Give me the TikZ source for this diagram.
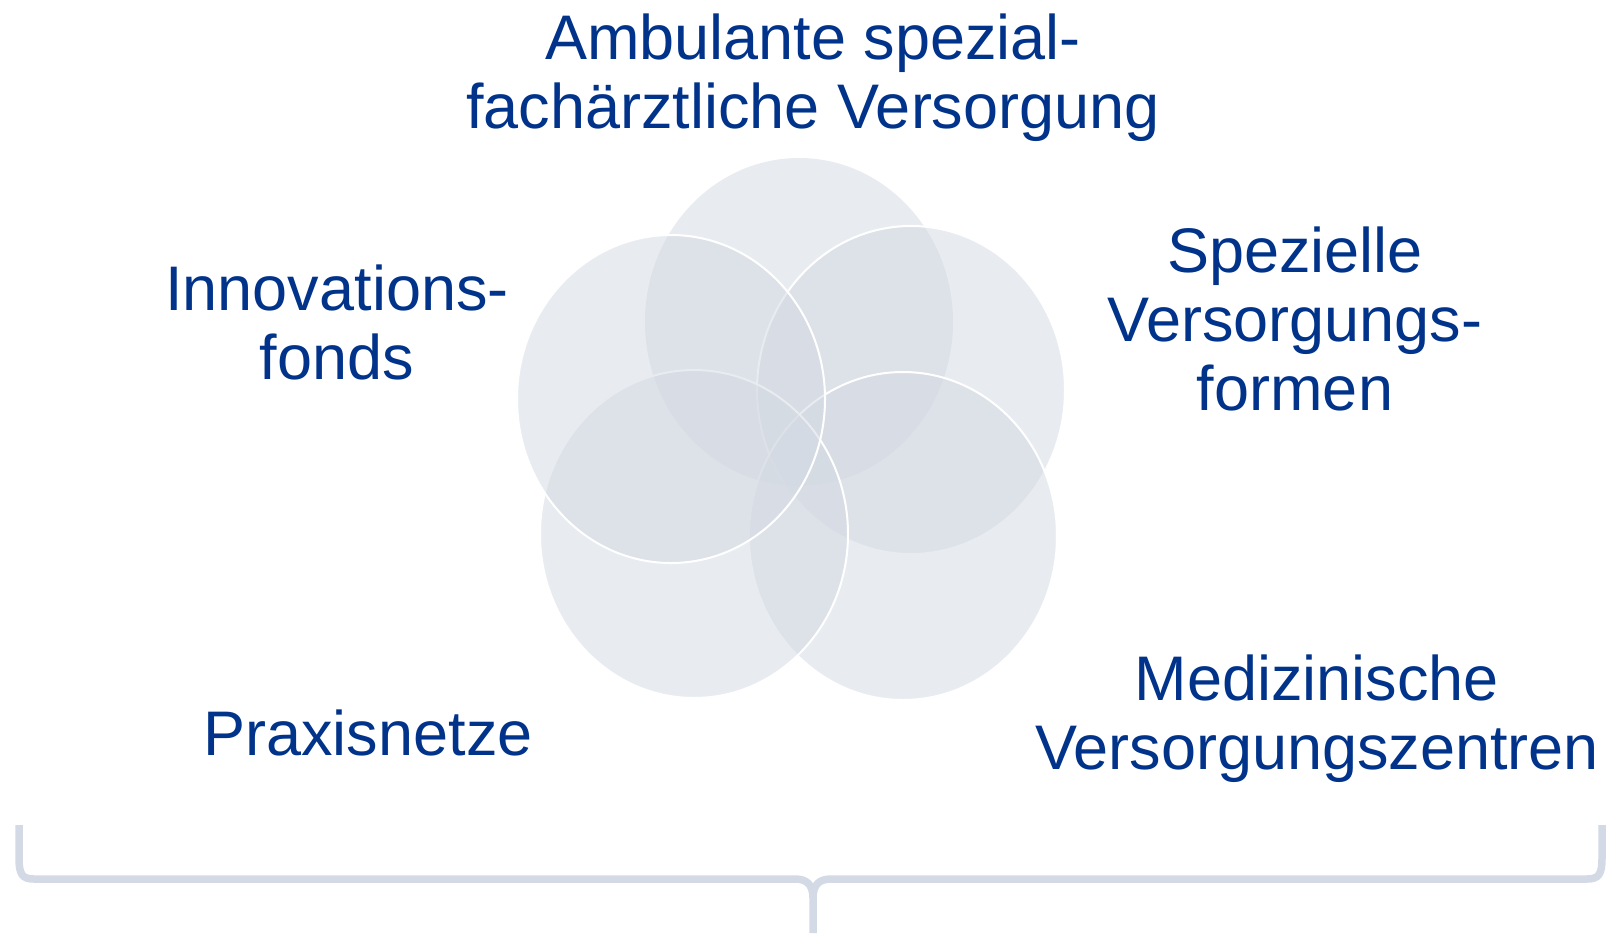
\documentclass[tikz,border=0pt]{standalone}
\usepackage{fontspec}
\setmainfont{Liberation Sans}
\definecolor{txtblue}{RGB}{0,51,137}
\definecolor{circfill}{RGB}{211,217,226}
\definecolor{bracecol}{RGB}{211,218,229}
\begin{document}
\begin{tikzpicture}[x=0.5pt,y=-0.5pt,
  lbl/.style={text=txtblue,font=\fontsize{31.5pt}{34.5pt}\selectfont,align=center,inner sep=0pt,anchor=base},
  petal/.style={fill=circfill,fill opacity=0.52,draw=white,line width=1pt},
  petalnb/.style={fill=circfill,fill opacity=0.52},
  bracestroke/.style={draw=bracecol,line width=3.75pt}]
\useasboundingbox (0,0) rectangle (1607,933);
% petals
\path[petalnb] (799,322) ellipse [x radius=154,y radius=164];
\path[petal] (911,390) ellipse [x radius=154,y radius=164];
\path[petal] (903,536) ellipse [x radius=154,y radius=164];
\path[petal] (694,534) ellipse [x radius=154,y radius=164];
\path[petal] (671,399) ellipse [x radius=154,y radius=164];
% labels (anchor = baseline of last line)
\node[lbl] (amb) at (813,128) {Ambulante spezial-\\fachärztliche Versorgung};
\node[lbl] (inn) at (337,379) {Innovations-\\fonds};
\node[lbl] (spe) at (1295,410) {Spezielle\\Versorgungs-\\formen};
\node[lbl] (mvz) at (1317,769) {Medizinische\\Versorgungszentren};
\node[lbl] (pra) at (368,755) {Praxisnetze};
% brace
\draw[bracestroke] (19,825) -- (19,858) .. controls (19,874) and (22,879) .. (34,879)
  -- (795,879) .. controls (807,879) and (813,885) .. (813,898) -- (813,933);
\draw[bracestroke] (1602,825) -- (1602,858) .. controls (1602,874) and (1599,879) .. (1587,879)
  -- (831,879) .. controls (819,879) and (813,885) .. (813,898);
\end{tikzpicture}
\end{document}
